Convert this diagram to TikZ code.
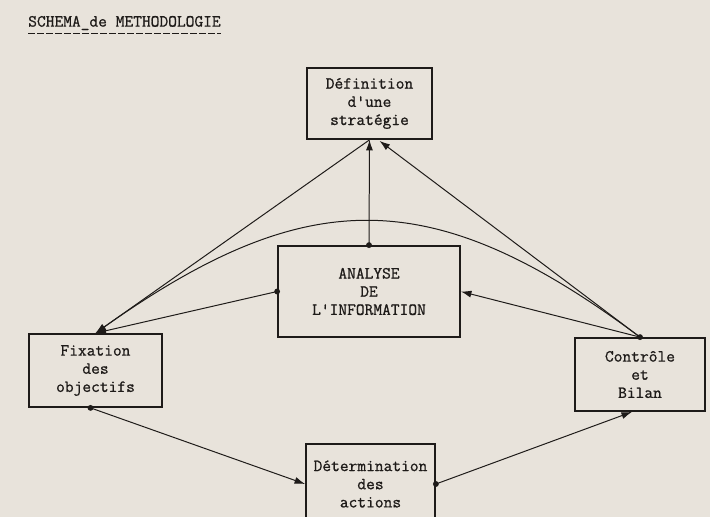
\documentclass[tikz,border=0pt]{standalone}
\usepackage{fontspec}
\newfontfamily\twfont{Latin Modern Mono}[FakeBold=0.9]
\usetikzlibrary{arrows.meta,calc}
\definecolor{paper}{RGB}{232,227,219}
\definecolor{ink}{RGB}{30,27,25}
\begin{document}
\begin{tikzpicture}[x=0.03cm,y=-0.03cm,
  tw/.style={font=\twfont\fontsize{14.5}{15.5}\selectfont, text=ink},
  box/.style={tw, draw=ink, line width=1.5pt, align=center, inner sep=0pt},
  conn/.style={draw=ink, line width=0.85pt},
  arr/.style={conn,-{Latex[length=9pt,width=6pt]}},
  dot/.style={circle, fill=ink, inner sep=0pt, minimum size=5pt}]
\fill[paper] (0,0) rectangle (710,517);
\useasboundingbox (0,0) rectangle (710,517);

% title
\node[tw, anchor=west, inner sep=0pt] (title) at (28,23) {SCHEMA\_de METHODOLOGIE};
\draw[ink, line width=0.9pt, dash pattern=on 6pt off 1.7pt] ($(title.south west)+(0,3)$) coordinate (ulA) -- ($(title.south east)+(0,3)$) coordinate (ulB);

% boxes
\node[box, minimum width=3.75cm, minimum height=2.13cm] (D) at (369.5,103.5) {Définition\\d'une\\stratégie};
\node[box, minimum width=5.46cm, minimum height=2.73cm] (A) at (369,291.5) {ANALYSE\\DE\\L'INFORMATION};
\node[box, minimum width=3.99cm, minimum height=2.19cm] (F) at (95.5,370.5) {Fixation\\des\\objectifs};
\node[box, minimum width=3.9cm, minimum height=2.19cm] (C) at (640,374.5) {Contrôle\\et\\Bilan};
\node[box, minimum width=3.87cm, minimum height=2.4cm] (T) at (370.5,484) {Détermination\\des\\actions};

% connectors
\draw[arr] (A.north) -- (D.south);
\draw[arr] (A.west) -- (F.north);
\draw[arr] (C.north) -- ($(D.south)+(10,1)$);
\draw[arr] (C.north) -- (A.east);
\draw[arr] (D.south) -- (F.north);
\draw[arr] (C.north) .. controls (433,183) and (308,183) .. (F.north);
\draw[arr] ($(F.south)+(-5,0)$) -- (T.west);
\draw[arr] (T.east) -- ($(C.south)+(-8,0)$);

% dots
\node[dot] (d1) at (A.north) {};
\node[dot] (d2) at (A.west) {};
\node[dot] (d3) at (C.north) {};
\node[dot] (d4) at ($(F.south)+(-5,0)$) {};
\node[dot] (d5) at (T.east) {};
\end{tikzpicture}
\end{document}
